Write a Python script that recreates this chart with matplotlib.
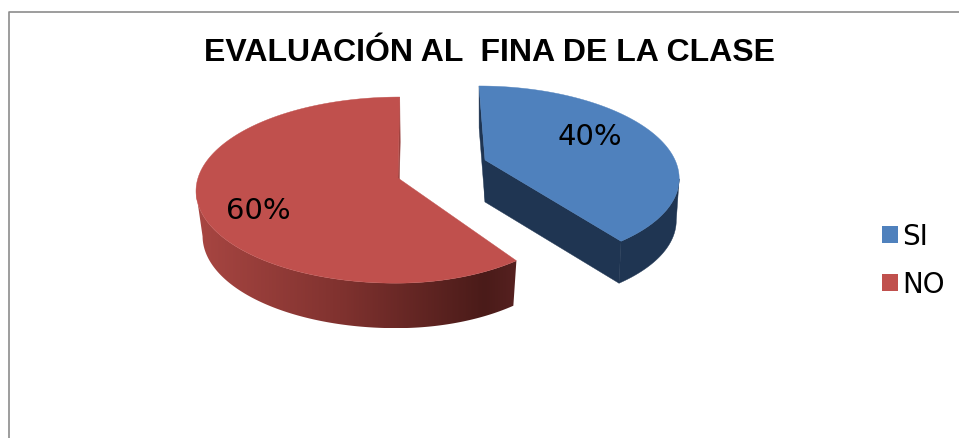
import numpy as np
import matplotlib
matplotlib.use('Agg')
import matplotlib.pyplot as plt
from matplotlib.colors import LinearSegmentedColormap
from matplotlib.patches import Patch, Polygon

title = 'EVALUACIÓN AL  FINA DE LA CLASE'
labels = ['SI', 'NO']
values = [40, 60]
value_text = ['40%', '60%']
top_colors = ['#4F81BD', '#C0504D']

# angles clockwise from 12 o'clock
ends = np.cumsum(values) / np.sum(values) * 2 * np.pi
starts = ends - np.array(values) / np.sum(values) * 2 * np.pi

# look of each exploded slice, in pixels
blue = dict(cx=485, cy=160, a_l=190, a_r=190, b=86.6, p=0.17, s=-7, depth=42, shrink=0.985, dx=0)
red = dict(cx=398, cy=178, a_l=200, a_r=183, b=91.5, p=0.13, s=2, depth=45, shrink=0.97, dx=0.5)
slices = [blue, red]

side_cmap = LinearSegmentedColormap.from_list(
    'side', [(0, '#A84642'), (0.45, '#80322F'), (0.9, '#4A1B19'), (1, '#562120')])


def project(th, g, bottom=False):
    u = np.sin(th)
    v = np.cos(th)
    k = 1 / (1 + g['p'] * v)
    a = np.where(u < 0, g['a_l'], g['a_r'])
    x = (a * u + g['s'] * v) * k
    y = -g['b'] * v * k
    if bottom:
        return g['cx'] + x * g['shrink'] + g['dx'], g['cy'] + y + g['depth']
    return g['cx'] + x, g['cy'] + y


fig = plt.figure(figsize=(9.59, 4.38), dpi=100)
ax = fig.add_axes([0, 0, 1, 1])
ax.axis('off')

# chart frame
ax.plot([8.5, 8.5, 959], [438, 11.5, 11.5], color='#8C8C8C', lw=1.2)

for i, g in enumerate(slices):
    th = np.linspace(starts[i], ends[i], 300)
    xt, yt = project(th, g)
    xb, yb = project(th, g, bottom=True)
    ax_b, ay_b = g['cx'] + g['dx'], g['cy'] + g['depth']
    wall = '#1F3552' if i == 0 else '#9A413E'

    # round wall, only the part facing the viewer
    if i == 0:
        front = th >= th[np.argmax(xt)]
    else:
        front = th <= th[np.argmin(xt)]
    outline = np.c_[np.r_[xt[front], xb[front][::-1]], np.r_[yt[front], yb[front][::-1]]]
    if i == 0:
        ax.add_patch(Polygon(outline, color=wall, lw=0.3, zorder=2))
    else:
        poly = Polygon(outline, facecolor='none', edgecolor='none', zorder=2)
        ax.add_patch(poly)
        im = ax.imshow(np.linspace(0, 1, 256)[None, :], cmap=side_cmap, aspect='auto',
                       extent=(xt.min(), xt.max(), yb.max(), yt.min()), zorder=2)
        im.set_clip_path(poly)

    # straight walls of the cut
    for j in ([0, -1] if i == 0 else [-1]):
        ax.fill([g['cx'], xt[j], xb[j], ax_b], [g['cy'], yt[j], yb[j], ay_b],
                color=wall, lw=0.3, zorder=3)

    # top face
    ax.fill(np.r_[g['cx'], xt], np.r_[g['cy'], yt], color=top_colors[i], lw=0.3, zorder=4)

ax.set_xlim(0, 959)
ax.set_ylim(438, 0)

ax.text(490, 61, title, fontsize=23, fontweight='bold', family='Liberation Sans',
        ha='center', va='baseline', color='black')
ax.text(590, 137, value_text[0], fontsize=21, ha='center', va='center', color='black', zorder=5)
ax.text(258, 211, value_text[1], fontsize=21, ha='center', va='center', color='black', zorder=5)

handles = [Patch(facecolor=c, edgecolor='none') for c in top_colors]
ax.legend(handles, labels, loc='center left', bbox_to_anchor=(0.92, 0.405), frameon=False,
          fontsize=20, handlelength=0.55, handleheight=0.55, handletextpad=0.18,
          labelspacing=0.72, borderpad=0, borderaxespad=0)

fig.savefig('out.png', dpi=100)
